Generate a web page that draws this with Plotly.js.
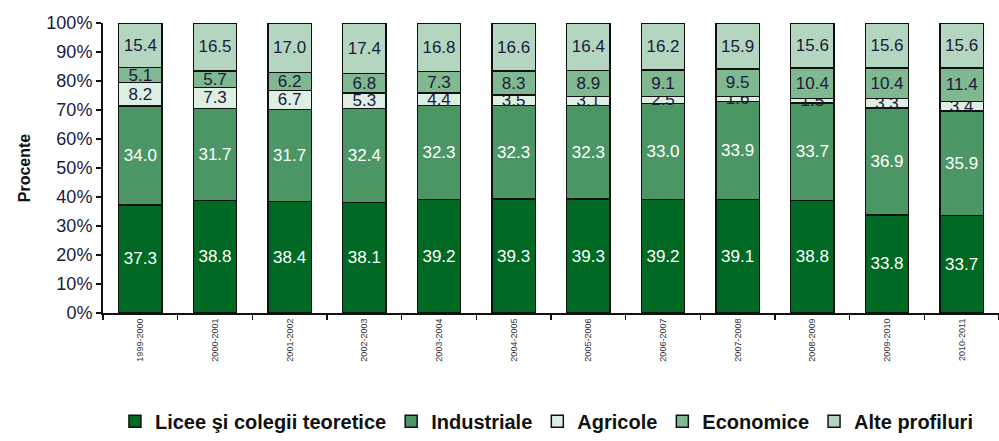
<!DOCTYPE html>
<html>
<head>
<meta charset="utf-8">
<script src="https://cdn.plot.ly/plotly-3.0.1.min.js"></script>
<style>html,body{margin:0;padding:0;background:#fff;}#chart{width:999px;height:441px;}</style>
</head>
<body>
<div id="chart"></div>
<script>
const years = ["1999-2000","2000-2001","2001-2002","2002-2003","2003-2004","2004-2005","2005-2006","2006-2007","2007-2008","2008-2009","2009-2010","2010-2011"];
const licee = [37.3,38.8,38.4,38.1,39.2,39.3,39.3,39.2,39.1,38.8,33.8,33.7];
const industriale = [34.0,31.7,31.7,32.4,32.3,32.3,32.3,33.0,33.9,33.7,36.9,35.9];
const agricole = [8.2,7.3,6.7,5.3,4.4,3.5,3.1,2.5,1.6,1.5,3.3,3.4];
const economice = [5.1,5.7,6.2,6.8,7.3,8.3,8.9,9.1,9.5,10.4,10.4,11.4];
const alte = [15.4,16.5,17.0,17.4,16.8,16.6,16.4,16.2,15.9,15.6,15.6,15.6];
const seriesNames = ["Licee şi colegii teoretice","Industriale","Agricole","Economice","Alte profiluri"];

const FONT = "Liberation Sans, Arial, sans-serif";
const colors = ["#006a25","#4b9664","#ddeee2","#80b891","#b4d6c0"];
const textColors = ["#ffffff","#ffffff","#1b1b3a","#1b1b3a","#1b1b3a"];
const data = [licee, industriale, agricole, economice, alte].map((vals, i) => ({
  type: "bar",
  name: seriesNames[i],
  x: years,
  y: vals,
  text: vals.map(v => v.toFixed(1)),
  textposition: "inside",
  insidetextanchor: "middle",
  textfont: {family: FONT, size: 17, color: textColors[i]},
  marker: {color: colors[i], line: {color: "#111", width: 1.5}},
  hoverinfo: "skip"
}));

const layout = {
  width: 999, height: 441,
  margin: {l: 103, r: 0, t: 23, b: 128, autoexpand: false},
  barmode: "stack",
  bargap: 0.42,
  paper_bgcolor: "#fff",
  plot_bgcolor: "#fff",
  font: {family: FONT, color: "#1b1b3a"},
  uniformtext: {mode: "show", minsize: 17},
  showlegend: true,
  legend: {
    orientation: "h", traceorder: "normal",
    xref: "container", yref: "container",
    x: 0.547, xanchor: "center", y: 0.045, yanchor: "middle",
    font: {family: FONT, size: 20, color: "#111", weight: "bold"},
    itemwidth: 30, tracegroupgap: 0
  },
  xaxis: {
    type: "category",
    tickangle: -90,
    tickfont: {family: FONT, size: 9, color: "#333"},
    showline: true, linecolor: "#111", linewidth: 2,
    ticks: "outside", ticklen: 5, tickcolor: "#111", tickwidth: 1.5,
    tickson: "boundaries",
    showgrid: false, zeroline: false, fixedrange: true
  },
  yaxis: {
    range: [0, 100], dtick: 10, ticksuffix: "%",
    tickfont: {family: FONT, size: 18, color: "#1b1b3a"},
    showline: true, linecolor: "#111", linewidth: 2,
    ticks: "outside", ticklen: 5, tickcolor: "#111", tickwidth: 1.5,
    showgrid: false, zeroline: false,
    title: {text: "<b>Procente</b>", font: {family: FONT, size: 16, color: "#111"}, standoff: 12},
    fixedrange: true
  }
};
Plotly.newPlot("chart", data, layout, {displayModeBar: false, staticPlot: true});
</script>
</body>
</html>
